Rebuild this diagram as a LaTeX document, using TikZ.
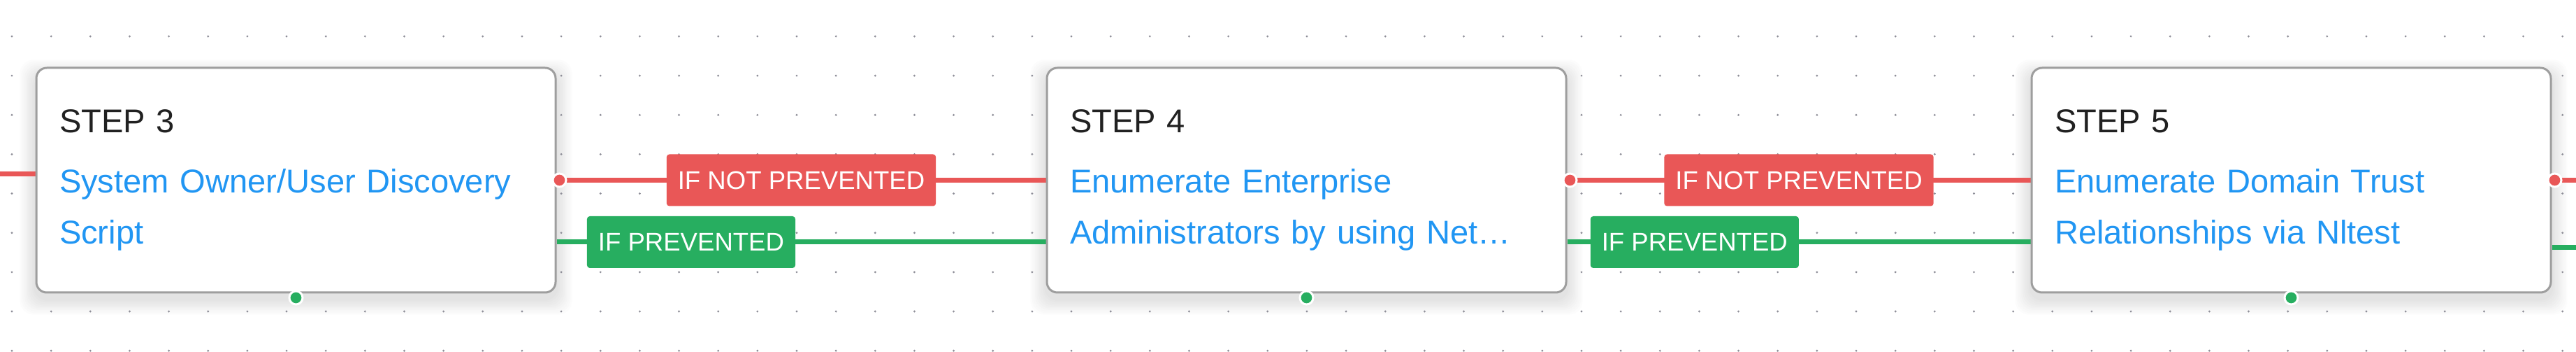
\documentclass[tikz,border=0pt]{standalone}
\usepackage{fontspec}
\setmainfont{Liberation Sans}
\usetikzlibrary{positioning,backgrounds}

\definecolor{ifred}{HTML}{E95757}
\definecolor{ifgreen}{HTML}{27AE60}
\definecolor{stepblue}{HTML}{2196F3}
\definecolor{stepgray}{HTML}{9E9E9E}
\definecolor{stepink}{HTML}{212121}
\definecolor{griddot}{HTML}{8E8E98}

\begin{document}
\begin{tikzpicture}[
  stepbox/.style={draw=stepgray, line width=0.03cm, fill=white, rounded corners=0.15cm, minimum width=7.43cm, minimum height=3.21cm, text width=6.77cm, inner xsep=0.33cm, align=left, text=stepblue, font=\fontsize{13.4}{21}\selectfont},
  iflabel/.style={text=white, rounded corners=0.04cm, minimum height=0.74cm, inner xsep=0.16cm, font=\fontsize{10.4}{12}\selectfont},
  ifnot/.style={iflabel, fill=ifred},
  ifyes/.style={iflabel, fill=ifgreen},
  redline/.style={draw=ifred, line width=0.07cm},
  greenline/.style={draw=ifgreen, line width=0.07cm},
  portdot/.style={circle, draw=white, line width=0.03cm, inner sep=0, minimum size=0.19cm}
]
  \useasboundingbox (0,0) rectangle (36.86,-5.03);

  \node[stepbox] (s3) at (4.235,-2.575) {\textcolor{stepink}{STEP 3}\\[3.4pt]System Owner/User Discovery\\Script};
  \node[stepbox, right=7.0cm of s3] (s4) {\textcolor{stepink}{STEP 4}\\[3.4pt]Enumerate Enterprise\\Administrators by using Net…};
  \node[stepbox, right=6.63cm of s4] (s5) {\textcolor{stepink}{STEP 5}\\[3.4pt]Enumerate Domain Trust\\Relationships via Nltest};

  \foreach \b in {s3,s4,s5} {
    \node[portdot, fill=ifred] (\b r) at ([xshift=0.04cm]\b.east) {};
    \node[portdot, fill=ifgreen] (\b g) at ([yshift=-0.06cm]\b.south) {};
  }

  \coordinate (inred) at (0,-2.49);
  \coordinate (outred) at (36.86,-2.56);
  \coordinate (outgreen) at (36.86,-3.54);

  \begin{scope}[on background layer]
    \fill[white] (0,0) rectangle (36.86,-5.03);

    \foreach \b in {s3,s4,s5}
      \foreach \k in {10,...,1} {
        \pgfmathsetmacro\spread{0.022*\k}
        \pgfmathsetmacro\shade{1.1*(11-\k)}
        \fill[black!\shade, rounded corners=0.2cm] ([shift={(-\spread,-\spread-0.08)}]\b.south west) rectangle ([shift={(\spread,\spread-0.12)}]\b.north east);
      }

    \foreach \i in {0,...,65}
      \foreach \j in {0,...,8}
        \fill[griddot] (0.17+0.5615*\i,-0.52-0.5615*\j) circle (0.016);

    \draw[redline] (inred) -- (inred -| s3.west);
    \draw[redline] (s3.east) -- node[ifnot] (n34) {IF NOT PREVENTED} (s4.west);
    \draw[greenline] ([yshift=-0.885cm]s3.east) -- node[ifyes, pos=0.275] (p34) {IF PREVENTED} ([yshift=-0.885cm]s4.west);
    \draw[redline] (s4.east) -- node[ifnot] (n45) {IF NOT PREVENTED} (s5.west);
    \draw[greenline] ([yshift=-0.885cm]s4.east) -- node[ifyes, pos=0.275] (p45) {IF PREVENTED} ([yshift=-0.885cm]s5.west);
    \draw[redline] (s5.east) -- (s5.east -| outred);
    \draw[greenline] (outgreen -| s5.east) -- (outgreen);
  \end{scope}
\end{tikzpicture}
\end{document}
